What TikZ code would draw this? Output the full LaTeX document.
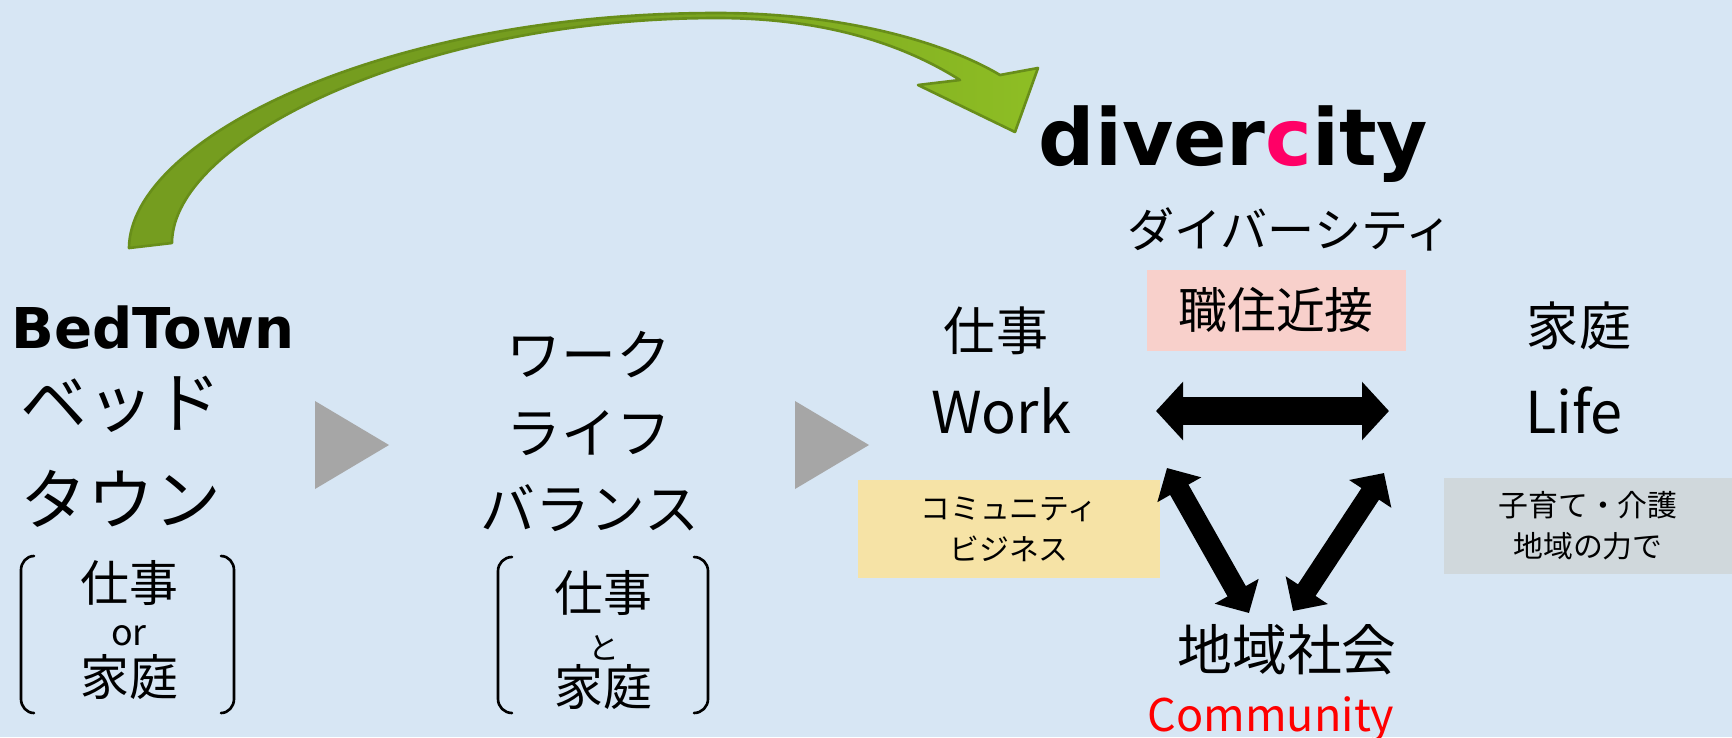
\documentclass[tikz,border=0pt]{standalone}
\usepackage{fontspec}
\setmainfont{Noto Sans CJK JP}
\newfontfamily\dejavu{DejaVu Sans}
\usepackage{xcolor}
\usetikzlibrary{arrows.meta}
\definecolor{bgblue}{RGB}{215,230,244}
\definecolor{triGray}{RGB}{166,166,166}
\definecolor{arrowdark}{RGB}{117,157,31}
\definecolor{arrowlight}{RGB}{142,190,36}
\definecolor{arrowline}{RGB}{104,142,26}
\definecolor{pinkbox}{RGB}{248,208,203}
\definecolor{yellowbox}{RGB}{246,227,166}
\definecolor{graybox}{RGB}{208,216,220}
\definecolor{cpink}{RGB}{255,0,102}
\definecolor{commred}{RGB}{255,0,0}
\tikzset{
	jp/.style={font=\fontsize{#1}{#1}\selectfont, inner sep=0pt},
	lat/.style={font=\fontsize{#1}{#1}\selectfont, inner sep=0pt, anchor=base},
	latbold/.style={font=\dejavu\bfseries\fontsize{#1}{#1}\selectfont, inner sep=0pt, anchor=base west},
	jpbox/.style={inner sep=0pt, align=center, font=\fontsize{8.5}{11.7}\selectfont}
}
\newcommand{\pxwd}{0.75pt}

\begin{document}
\begin{tikzpicture}[x=0.1mm, y=-0.1mm, line cap=round, line join=round]
    \useasboundingbox (0,0) rectangle (1732,737);
    \fill[bgblue] (0,0) rectangle (1732,737);

    \draw[arrowline, line width=\pxwd, left color=arrowdark, right color=arrowlight, middle color=arrowdark]
      (129,248) .. controls (130,140) and (380,13) .. (717,13)
      .. controls (850,13) and (950,45) .. (1000,75)
      -- (1038,68) -- (1015,132) -- (918,85) -- (960,80)
      .. controls (900,42) and (820,18) .. (717,18)
      .. controls (420,18) and (172,140) .. (172,243) -- cycle;

    % BedTown
    \node[latbold=16] (bedtown) at (11,348) {BedTown};
    \node[jp=19] (bed) at (121,404) {ベッド};
    \node[jp=19] (town) at (121,499) {タウン};
    \node[jp=13.9] (lwork) at (129,583) {仕事};
    \node[jp=10.2] (lor) at (129,636) {or};
    \node[jp=13.9] (lhome) at (129,677) {家庭};
    \draw[line width=\pxwd] (34,556) to[out=180,in=90] (21,570) -- (21,699) to[out=-90,in=180] (34,713);
    \draw[line width=\pxwd] (221,556) to[out=0,in=90] (234,570) -- (234,699) to[out=-90,in=0] (221,713);

    \fill[triGray] (315,401) -- (315,489) -- (389,445) -- cycle;

    % work life balance
    \node[jp=15.6] (wlbA) at (589,355) {ワーク};
    \node[jp=15.6] (wlbB) at (589,433) {ライフ};
    \node[jp=15.6] (wlbC) at (590,508) {バランス};
    \node[jp=13.9] (rwork) at (603,593) {仕事};
    \node[jp=8.8] (rto) at (604,648) {と};
    \node[jp=13.9] (rhome) at (603,687) {家庭};
    \draw[line width=\pxwd] (512,557) to[out=180,in=90] (498,571) -- (498,699) to[out=-90,in=180] (512,713);
    \draw[line width=\pxwd] (694,557) to[out=0,in=90] (708,571) -- (708,699) to[out=-90,in=0] (694,713);

    \fill[triGray] (795,401) -- (795,489) -- (869,445) -- cycle;

    % divercity
    \node[latbold=22.4] (div) at (1038,165) {diver{\color{cpink}c}ity};
    \node[jp=13.4] (divkana) at (1290,229) {ダイバーシティ};
    \node[jp=13.9, fill=pinkbox, minimum width=25.9mm, minimum height=8.1mm] (shokuju) at (1276,310) {職住近接};
    \node[jp=14.8] (shigoto) at (996,331) {仕事};
    \node[jp=14.8] (katei) at (1579,326) {家庭};
    \node[lat=16.4] (work) at (1001,433) {Work};
    \node[lat=16.4] (life) at (1574,433) {Life};
    \node[jpbox, fill=yellowbox, minimum width=30.2mm, minimum height=9.8mm] (combiz) at (1009,529) {コミュニティ\\ビジネス};
    \node[jpbox, fill=graybox, minimum width=28.8mm, minimum height=9.6mm] (kaigo) at (1588,526) {子育て・介護\\地域の力で};
    \node[jp=15.6] (chiiki) at (1287,650) {地域社会};
    \node[lat=12.8, text=commred] (comm) at (1271,731) {Community};

    \coordinate (hL) at (1156,411);
    \coordinate (hR) at (1389,411);
    \coordinate (dLa) at (1167,468);
    \coordinate (dLb) at (1249,613);
    \coordinate (dRa) at (1384,473);
    \coordinate (dRb) at (1293,611);

    \tikzset{bigarr/.style={{Triangle[length=2.7mm,width=5.7mm]}-{Triangle[length=2.7mm,width=5.7mm]}, line width=2.8mm, line cap=butt},
             diagarr/.style={{Triangle[length=2.5mm,width=4.9mm]}-{Triangle[length=2.5mm,width=4.9mm]}, line width=2.1mm, line cap=butt}}

    \draw[bigarr] (hL) -- (hR);
    \draw[diagarr] (dLa) -- (dLb);
    \draw[diagarr] (dRa) -- (dRb);
\end{tikzpicture}
\end{document}
